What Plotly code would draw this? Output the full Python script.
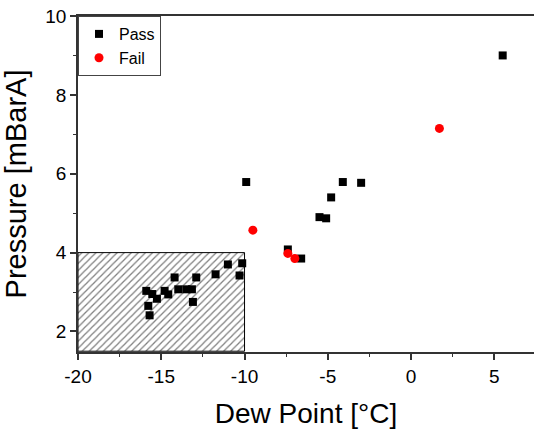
import plotly.graph_objects as go

# Pass data
pass_x = [5.5, -9.9, -4.1, -3.0, -4.8, -5.5, -5.1, -7.4, -6.6, -11.0, -10.14, -10.3,
          -11.74, -12.9, -14.2, -13.98, -13.5, -13.16, -13.1, -14.8, -14.58, -15.9,
          -15.54, -15.26, -15.78, -15.7]
pass_y = [9.0, 5.79, 5.79, 5.77, 5.40, 4.90, 4.87, 4.08, 3.85, 3.70, 3.73, 3.42,
          3.45, 3.37, 3.37, 3.07, 3.07, 3.07, 2.75, 3.03, 2.94, 3.03,
          2.95, 2.83, 2.65, 2.41]

# Fail data
fail_x = [1.7, -9.5, -7.4, -6.98]
fail_y = [7.15, 4.57, 3.98, 3.85]

# Hatched region bounds
region_x = [-20, -10]
region_y = [1.5, 4]

x_ticks = [-20, -15, -10, -5, 0, 5]
x_ticktext = ["-20", "-15", "-10", "-5", "0", "5"]
y_ticks = [2, 4, 6, 8, 10]
y_ticktext = ["2", "4", "6", "8", "10"]

x_range = [-20, 7.38]
y_range = [1.48, 10]

fig = go.Figure()

fig.add_trace(go.Scatter(
    x=[region_x[0], region_x[1], region_x[1], region_x[0], region_x[0]],
    y=[region_y[0], region_y[0], region_y[1], region_y[1], region_y[0]],
    mode="lines", fill="toself",
    fillcolor="rgba(0,0,0,0)",
    fillpattern=dict(shape="/", size=5, solidity=0.25, fgcolor="black", bgcolor="white"),
    line=dict(color="black", width=1),
    showlegend=False, hoverinfo="skip"))

fig.add_trace(go.Scatter(
    x=pass_x, y=pass_y, mode="markers", name="Pass",
    marker=dict(symbol="square", size=8, color="black")))
fig.add_trace(go.Scatter(
    x=fail_x, y=fail_y, mode="markers", name="Fail",
    marker=dict(symbol="circle", size=9, color="red")))

axis_common = dict(
    showgrid=False, zeroline=False, showline=True, linecolor="#333", linewidth=1.5,
    ticks="outside", ticklen=6, tickwidth=1.5, tickcolor="#333",
    tickfont=dict(family="Arial, Liberation Sans", size=19, color="black"),
)

fig.update_xaxes(range=x_range, tickvals=x_ticks, ticktext=x_ticktext, mirror=True,
                 minor=dict(ticks="outside", ticklen=3, tickwidth=1.2, tickcolor="#333",
                            tickvals=[-17.5, -12.5, -7.5, -2.5, 2.5]),
                 title=dict(text="Dew Point [°C]", standoff=18,
                            font=dict(family="Arial, Liberation Sans", size=28, color="black")),
                 **axis_common)
fig.update_yaxes(range=y_range, tickvals=y_ticks, ticktext=y_ticktext, mirror=False,
                 minor=dict(ticks="outside", ticklen=3, tickwidth=1.2, tickcolor="#333",
                            tickvals=[3, 5, 7, 9]),
                 title=dict(text="Pressure [mBarA]", standoff=10,
                            font=dict(family="Arial, Liberation Sans", size=29, color="black")),
                 **axis_common)

fig.update_layout(
    width=534, height=437,
    margin=dict(l=78, r=0, t=16, b=85),
    plot_bgcolor="white", paper_bgcolor="white",
    legend=dict(x=0, y=1, xanchor="left", yanchor="top",
                bordercolor="#444", borderwidth=1, bgcolor="white",
                font=dict(family="Arial, Liberation Sans", size=16, color="black"),
                tracegroupgap=0, itemwidth=30),
)

fig.write_html("out.html")
